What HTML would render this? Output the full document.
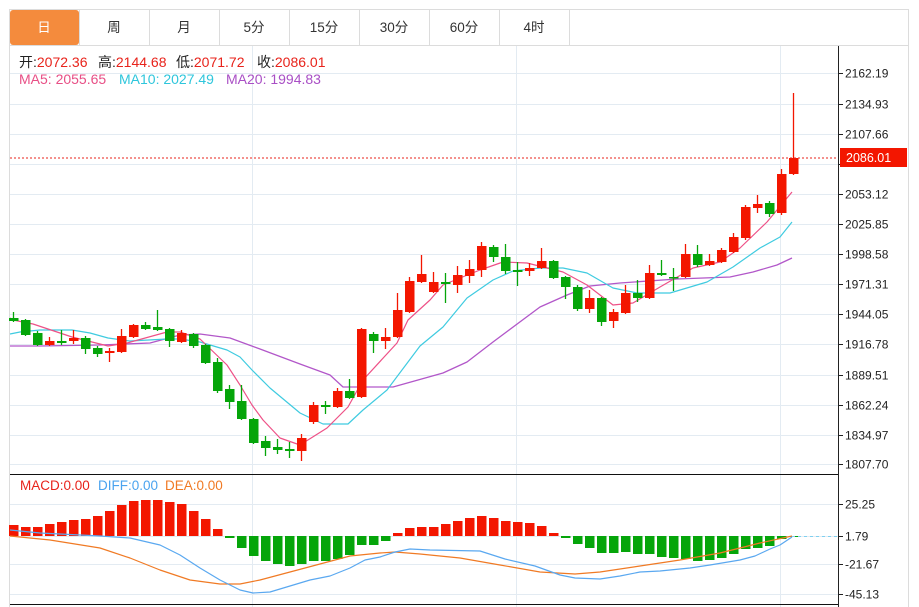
<!DOCTYPE html>
<html><head><meta charset="utf-8"><style>
body{margin:0;background:#fff;width:919px;height:607px;overflow:hidden;font-family:"Liberation Sans","Noto Sans CJK SC",sans-serif;}
svg{position:absolute;left:0;top:0}
</style></head><body>
<svg id="s" width="919" height="607" xmlns="http://www.w3.org/2000/svg" font-family="Liberation Sans, Noto Sans CJK SC, sans-serif">
<rect x="9.5" y="9.5" width="899" height="600" fill="#fff" stroke="#dcdcdc"/>
<line x1="10" y1="45.5" x2="908" y2="45.5" stroke="#dcdcdc"/>
<rect x="10" y="10" width="69" height="35" rx="3" fill="#f48b3d"/>
<g stroke="#dcdcdc"><line x1="79.5" y1="10" x2="79.5" y2="45"/><line x1="149.5" y1="10" x2="149.5" y2="45"/><line x1="219.5" y1="10" x2="219.5" y2="45"/><line x1="289.5" y1="10" x2="289.5" y2="45"/><line x1="359.5" y1="10" x2="359.5" y2="45"/><line x1="429.5" y1="10" x2="429.5" y2="45"/><line x1="499.5" y1="10" x2="499.5" y2="45"/><line x1="569.5" y1="10" x2="569.5" y2="45"/></g>
<g font-size="13.5" text-anchor="middle" fill="#333"><text x="44" y="32" fill="#fff">日</text><text x="114" y="32">周</text><text x="184" y="32">月</text><text x="254" y="32">5分</text><text x="324" y="32">15分</text><text x="394" y="32">30分</text><text x="464" y="32">60分</text><text x="534" y="32">4时</text></g>
<g id="grid" stroke="#e3ebf2"></g>
<g font-size="14">
<text y="67" fill="#222"><tspan x="19">开:</tspan><tspan fill="#e8231b">2072.36</tspan><tspan x="98">高:</tspan><tspan fill="#e8231b">2144.68</tspan><tspan x="176">低:</tspan><tspan fill="#e8231b">2071.72</tspan><tspan x="257">收:</tspan><tspan fill="#e8231b">2086.01</tspan></text>
<text y="84"><tspan x="19" fill="#e84f86">MA5: 2055.65</tspan><tspan x="119" fill="#2ec6dc">MA10: 2027.49</tspan><tspan x="226" fill="#a94fc5">MA20: 1994.83</tspan></text>
<text y="490" font-size="13.5"><tspan x="20" fill="#e8231b">MACD:0.00</tspan><tspan x="98" fill="#4aa3ef">DIFF:0.00</tspan><tspan x="165" fill="#f07a24">DEA:0.00</tspan></text></g>
<g id="c"></g>
<line x1="10" y1="474.5" x2="838" y2="474.5" stroke="#111"/>
<line x1="10" y1="604.5" x2="838" y2="604.5" stroke="#111"/>
<line x1="838.5" y1="46" x2="838.5" y2="607" stroke="#222"/>
<g id="ax" font-size="12" fill="#222"></g>
<line x1="10" y1="158" x2="838" y2="158" stroke="#e8231b" stroke-dasharray="2,2"/>
<rect x="840" y="148" width="67" height="19" fill="#f31600"/>
<text x="846" y="162" font-size="12.5" fill="#fff">2086.01</text>
</svg>
<script>
var NS="http://www.w3.org/2000/svg",c=document.getElementById('c'),g=document.getElementById('grid'),ax=document.getElementById('ax');
function el(p,t,a){var e=document.createElementNS(NS,t);for(var k in a)e.setAttribute(k,a[k]);p.appendChild(e);return e;}
var L=[[73,"2162.19"],[104,"2134.93"],[134,"2107.66"],[164,""],[194,"2053.12"],[224,"2025.85"],[254,"1998.58"],[284,"1971.31"],[314,"1944.05"],[344,"1916.78"],[375,"1889.51"],[405,"1862.24"],[435,"1834.97"],[464,"1807.70"],[504,"25.25"],[536,"1.79"],[564,"-21.67"],[594,"-45.13"]];
L.forEach(function(l){el(g,'line',{x1:10,x2:838,y1:l[0]+.5,y2:l[0]+.5});el(ax,'line',{x1:838,x2:843,y1:l[0]+.5,y2:l[0]+.5,stroke:'#222'});if(l[1]){var t=el(ax,'text',{x:845,y:l[0]+4.5});t.textContent=l[1];}});
[252,516,780].forEach(function(x){el(g,'line',{x1:x+.5,x2:x+.5,y1:46,y2:607});});
var D=[[318,321,312,322,'g'],[320,335,319,336,'g'],[333,345,331,346,'g'],[345,341,337,346,'r'],[341,343,330,345,'g'],[341,338,330,344,'r'],[338,349,336,354,'g'],[348,354,346,357,'g'],[353,351,348,362,'r'],[352,336,329,353,'r'],[337,325,324,338,'r'],[325,329,322,330,'g'],[327,330,310,331,'g'],[329,341,328,347,'g'],[342,333,330,343,'r'],[334,346,333,348,'g'],[345,363,344,364,'g'],[362,391,358,393,'g'],[389,402,385,409,'g'],[401,419,385,420,'g'],[419,443,418,444,'g'],[441,448,436,456,'g'],[447,450,439,454,'g'],[449,451,442,458,'g'],[451,438,434,461,'r'],[422,405,402,424,'r'],[405,407,401,414,'g'],[407,391,388,408,'r'],[391,398,379,399,'g'],[397,329,328,398,'r'],[334,341,332,353,'g'],[341,337,328,349,'r'],[337,310,293,338,'r'],[312,281,277,313,'r'],[282,274,255,283,'r'],[292,282,272,293,'r'],[282,284,273,303,'g'],[285,275,266,293,'r'],[276,269,260,283,'r'],[270,246,242,277,'r'],[247,257,245,262,'g'],[257,271,244,274,'g'],[270,272,262,286,'g'],[271,268,263,276,'r'],[268,261,248,269,'r'],[261,278,260,279,'g'],[277,287,276,299,'g'],[287,309,285,311,'g'],[309,298,290,313,'r'],[298,322,297,326,'g'],[321,312,309,328,'r'],[313,293,285,314,'r'],[293,298,280,302,'g'],[298,273,265,299,'r'],[273,275,260,276,'g'],[277,278,268,291,'g'],[277,254,244,278,'r'],[254,265,245,267,'g'],[265,261,254,266,'r'],[262,250,248,263,'r'],[252,237,233,253,'r'],[238,207,205,240,'r'],[208,204,195,213,'r'],[203,214,201,217,'g'],[213,174,169,215,'r'],[174,158,93,175,'r']];
var M=[525,527,527,524,522,520,519,516,511,505,501,500,500,502,504,511,519,529,538,548,556,561,564,566,564,561,561,559,555,545,545,541,533,528,527,527,524,521,518,516,518,521,522,523,526,533,538,544,548,553,553,552,554,554,557,558,559,561,560,558,554,549,548,546,539,537];
function pl(pts,col,w){el(c,'polyline',{points:pts,fill:'none',stroke:col,'stroke-width':w||1.2,'stroke-linejoin':'round'});}
pl("10,346 40,346 100,345 150,343 180,335 200,334 230,338 260,349 300,364 330,375 343,387 393,387 443,373 467,362 493,342 540,307 567,295 590,286 620,283 677,279 730,277 753,272 777,265 792,258",'#b257c9',1.3);
pl("10,334 20,332 40,330 72,330 90,333 108,338 130,341 167,339 180,339 200,342 227,350 240,357 252,370 270,388 300,413 323,424 348,424 363,410 387,390 420,346 443,327 467,298 493,280 513,271 540,268 563,268 587,273 613,288 637,293 670,293 707,282 733,267 760,248 780,237 792,222",'#3fcbe0',1.2);
pl("10,318 13,320 33,324 72,337 108,346 127,343 167,332 180,332 200,339 227,365 240,385 252,405 263,420 280,438 300,445 327,428 348,407 363,380 397,343 408,320 430,300 443,285 460,278 480,270 503,262 527,263 563,272 587,285 613,305 633,303 660,287 693,268 720,262 740,248 767,222 792,192",'#ee5187',1.2);
D.forEach(function(d,i){var x=13+12*i,col=d[4]=='r'?'#f31600':'#05a50a';
el(c,'line',{x1:x+.5,x2:x+.5,y1:d[2],y2:d[3],stroke:col,'stroke-width':1.3});
var t=Math.min(d[0],d[1]),h=Math.max(Math.abs(d[0]-d[1]),1.5);el(c,'rect',{x:x-4,y:t,width:9.5,height:h,fill:col});});
M.forEach(function(m,i){var x=13+12*i,r=m<536;el(c,'rect',{x:x-4,y:r?m:536,width:9.5,height:Math.max(Math.abs(m-536),1),fill:r?'#f31600':'#05a50a'});});
el(c,'line',{x1:792,x2:838,y1:536.5,y2:536.5,stroke:'#7fd0f0','stroke-dasharray':'3,3'});
pl("10,536 50,540 100,548 130,558 160,570 190,580 220,584 240,584 260,580 290,572 320,564 350,556 380,553 395,552 420,554 460,558 500,565 540,572 575,574 600,572 640,566 680,560 720,553 760,543 792,536",'#f07a24',1.2);
pl("10,530 40,533 100,536 130,538 160,545 180,555 200,568 220,580 240,590 253,593 270,592 290,586 310,580 330,576 350,568 365,560 380,557 395,552 410,549 430,550 480,551 505,559 535,566 560,575 575,578 600,579 620,576 640,572 660,571 690,568 710,565 740,560 755,556 770,549 780,545 792,537",'#5aa8f0',1.2);
</script>
</body></html>
